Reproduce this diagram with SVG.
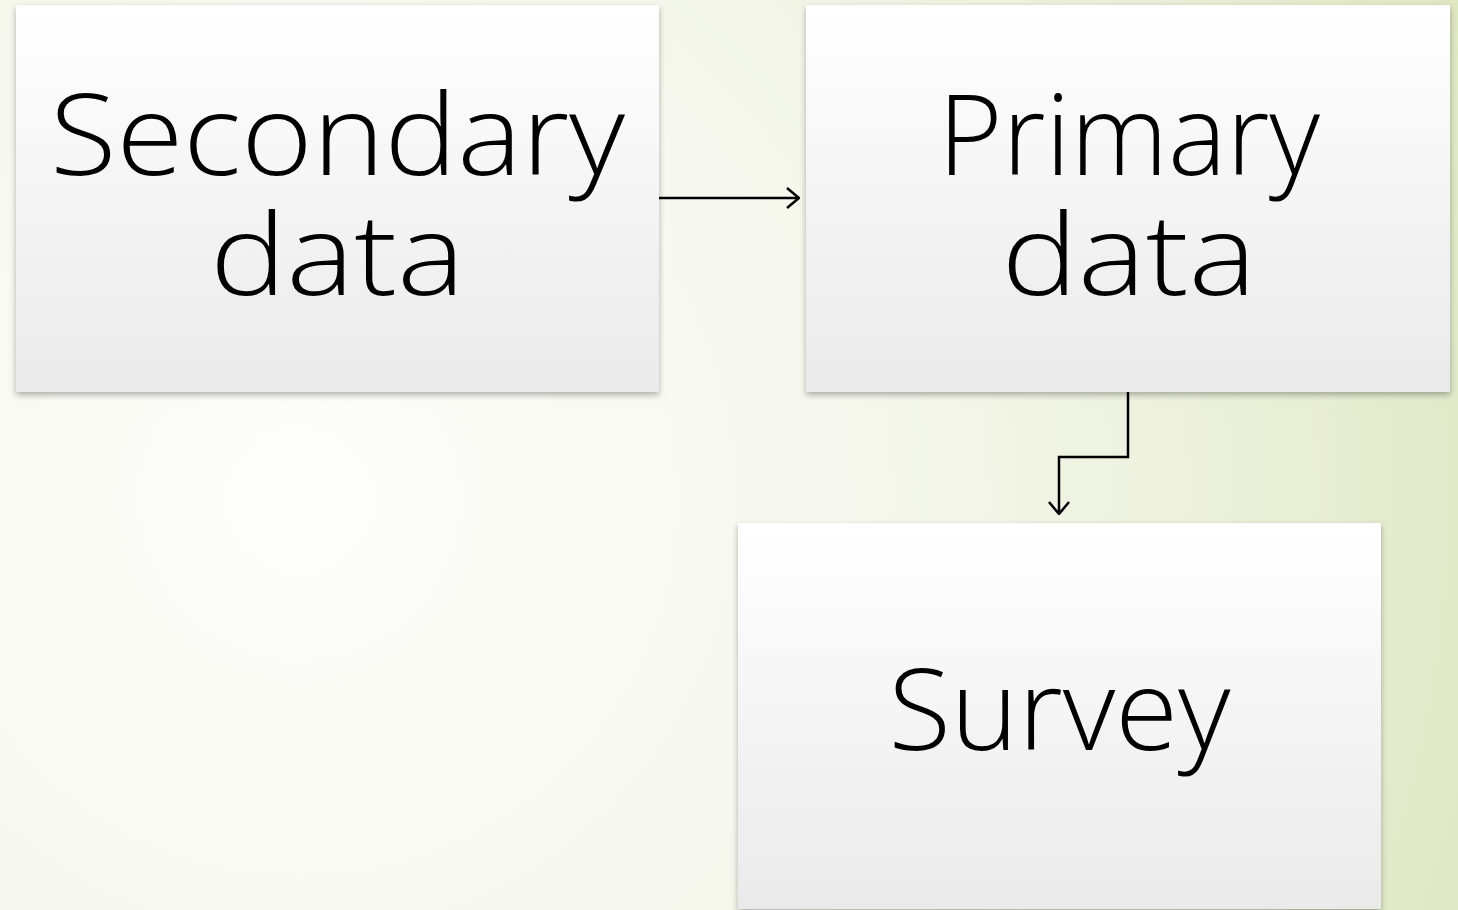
<svg xmlns="http://www.w3.org/2000/svg" width="1458" height="910" viewBox="0 0 1458 910">
<defs>
<radialGradient id="bg" cx="300" cy="500" r="1250" gradientUnits="userSpaceOnUse">
<stop offset="0" stop-color="#fdfdfa"/>
<stop offset="0.45" stop-color="#f6f8ee"/>
<stop offset="0.8" stop-color="#e9eed6"/>
<stop offset="1" stop-color="#dfe7c2"/>
</radialGradient>
<linearGradient id="box" x1="0" y1="0" x2="0" y2="1">
<stop offset="0" stop-color="#ffffff"/>
<stop offset="1" stop-color="#eaeaea"/>
</linearGradient>
<filter id="sh" x="-5%" y="-5%" width="110%" height="115%">
<feDropShadow dx="0" dy="3" stdDeviation="3" flood-color="#000" flood-opacity="0.3"/>
</filter>
<marker id="arr" viewBox="0 0 14 24" refX="13" refY="12" markerWidth="14" markerHeight="24" markerUnits="userSpaceOnUse" orient="auto">
<path d="M1,2 L13,12 L1,22" fill="none" stroke="#000" stroke-width="2.5"/>
</marker>
<style>
.node rect{fill:url(#box);filter:url(#sh);}
.lbl{font-family:"Open Sans","DejaVu Sans",sans-serif;font-size:112px;font-weight:300;fill:#000;text-anchor:middle;}
.conn path{fill:none;stroke:#000;stroke-width:2.5;}
</style>
</defs>
<rect x="0" y="0" width="1458" height="910" fill="url(#bg)"/>
<g id="connectors" class="conn">
<path d="M659,198 L799,198" marker-end="url(#arr)"/>
<path d="M1128,392 L1128,457 L1059,457 L1059,514" marker-end="url(#arr)"/>
</g>
<g id="secondary" class="node">
<rect x="16" y="5" width="643" height="387"/>
<text class="lbl" x="337.5" y="175" textLength="575" lengthAdjust="spacingAndGlyphs">Secondary</text>
<text class="lbl" x="337.5" y="295" textLength="255" lengthAdjust="spacingAndGlyphs">data</text>
</g>
<g id="primary" class="node">
<rect x="806" y="5" width="644" height="387"/>
<text class="lbl" x="1129" y="175" textLength="382" lengthAdjust="spacingAndGlyphs">Primary</text>
<text class="lbl" x="1129" y="295" textLength="255" lengthAdjust="spacingAndGlyphs">data</text>
</g>
<g id="survey" class="node">
<rect x="738" y="523" width="643" height="386"/>
<text class="lbl" x="1059.5" y="750" textLength="342" lengthAdjust="spacingAndGlyphs">Survey</text>
</g>
</svg>
